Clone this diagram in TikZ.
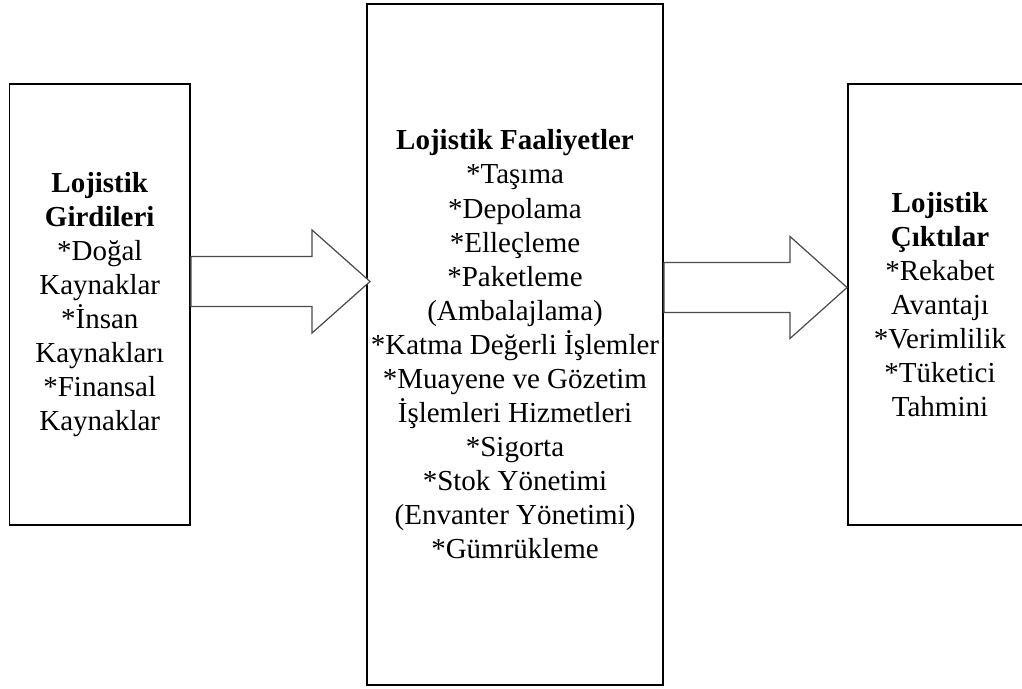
\documentclass[tikz,border=0pt]{standalone}
\usepackage{fontspec}
\setmainfont{Liberation Serif}
\usepackage{tikz}
\usetikzlibrary{calc}

\begin{document}
\begin{tikzpicture}[
        kutu/.style={draw, line width=1.1pt, align=center, inner sep=0pt,
            font=\fontsize{16.5}{19.4}\selectfont},
        ok/.style={draw=black!70, line width=0.7pt, fill=white, line join=miter}
    ]
        \useasboundingbox (0,0) rectangle (20.44,13.76);
        \clip (0,0) rectangle (20.44,13.76);
        % kutular
        \node (girdi) [kutu, minimum width=3.61cm, minimum height=8.82cm] at (1.995, 7.67)
            {\textbf{Lojistik}\\ \textbf{Girdileri}\\ *Doğal\\ Kaynaklar\\ *İnsan\\ Kaynakları\\ *Finansal\\ Kaynaklar};
        \node (faal) [kutu, minimum width=5.92cm, minimum height=13.62cm] at (10.30, 6.87)
            {\textbf{Lojistik Faaliyetler}\\ *Taşıma\\ *Depolama\\ *Elleçleme\\ *Paketleme\\ (Ambalajlama)\\
             *Katma Değerli İşlemler\\ *Muayene ve Gözetim\\ İşlemleri Hizmetleri\\ *Sigorta\\
             *Stok Yönetimi\\ (Envanter Yönetimi)\\ *Gümrükleme};
        \node (cikti) [kutu, minimum width=3.68cm, minimum height=8.82cm] at (18.80, 7.67)
            {\textbf{Lojistik}\\ \textbf{Çıktılar}\\ *Rekabet\\ Avantajı\\ *Verimlilik\\ *Tüketici\\ Tahmini};
        % oklar
        \coordinate (s1) at ([yshift=4.6mm]girdi.east);
        \coordinate (t1) at ([xshift=0.8mm]faal.west |- s1);
        \draw[ok] ([yshift=5mm]s1) -- ([shift={(-1.16,0.5)}]t1) -- ([shift={(-1.16,1.03)}]t1)
            -- (t1) -- ([shift={(-1.16,-1.03)}]t1) -- ([shift={(-1.16,-0.5)}]t1) -- ([yshift=-5mm]s1) -- cycle;
        \coordinate (t2) at ([yshift=3.4mm]cikti.west);
        \coordinate (s2) at (faal.east |- t2);
        \draw[ok] ([yshift=5mm]s2) -- ([shift={(-1.14,0.5)}]t2) -- ([shift={(-1.14,1.02)}]t2)
            -- (t2) -- ([shift={(-1.14,-1.02)}]t2) -- ([shift={(-1.14,-0.5)}]t2) -- ([yshift=-5mm]s2) -- cycle;
\end{tikzpicture}
\end{document}
